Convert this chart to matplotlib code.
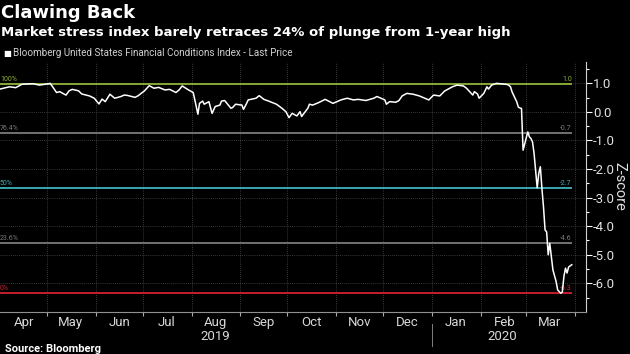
import matplotlib
matplotlib.use("Agg")
import matplotlib.pyplot as plt
import matplotlib.dates as mdates
import matplotlib.transforms as mtransforms
import pandas as pd

# Bloomberg US Financial Conditions Index
dates = [
    "2019-04-01", "2019-04-07", "2019-04-11", "2019-04-15", "2019-04-22", "2019-04-26",
    "2019-04-30", "2019-05-03", "2019-05-07", "2019-05-09", "2019-05-13", "2019-05-15",
    "2019-05-17", "2019-05-21", "2019-05-23", "2019-05-28", "2019-05-31", "2019-06-03",
    "2019-06-05", "2019-06-07", "2019-06-10", "2019-06-13", "2019-06-17", "2019-06-19",
    "2019-06-21", "2019-06-26", "2019-06-28", "2019-07-02", "2019-07-05", "2019-07-08",
    "2019-07-11", "2019-07-15", "2019-07-18", "2019-07-22", "2019-07-24", "2019-07-26",
    "2019-07-30", "2019-08-02", "2019-08-05", "2019-08-06", "2019-08-08", "2019-08-09",
    "2019-08-12", "2019-08-14", "2019-08-16", "2019-08-19", "2019-08-20", "2019-08-22",
    "2019-08-26", "2019-08-27", "2019-08-29", "2019-09-02", "2019-09-03", "2019-09-05",
    "2019-09-06", "2019-09-11", "2019-09-13", "2019-09-16", "2019-09-19", "2019-09-24",
    "2019-09-27", "2019-09-30", "2019-10-02", "2019-10-04", "2019-10-07", "2019-10-09",
    "2019-10-10", "2019-10-14", "2019-10-15", "2019-10-17", "2019-10-21", "2019-10-25",
    "2019-10-30", "2019-11-04", "2019-11-08", "2019-11-12", "2019-11-15", "2019-11-20",
    "2019-11-25", "2019-11-27", "2019-12-02", "2019-12-03", "2019-12-05", "2019-12-09",
    "2019-12-11", "2019-12-13", "2019-12-16", "2019-12-20", "2019-12-24", "2019-12-30",
    "2020-01-02", "2020-01-06", "2020-01-09", "2020-01-14", "2020-01-17", "2020-01-21",
    "2020-01-23", "2020-01-27", "2020-01-28", "2020-01-30", "2020-01-31", "2020-02-03",
    "2020-02-05", "2020-02-06", "2020-02-08", "2020-02-11", "2020-02-15", "2020-02-18",
    "2020-02-19", "2020-02-20", "2020-02-21", "2020-02-24", "2020-02-25", "2020-02-26",
    "2020-02-27", "2020-02-28", "2020-03-02", "2020-03-03", "2020-03-04", "2020-03-05",
    "2020-03-06", "2020-03-07", "2020-03-08", "2020-03-09", "2020-03-10", "2020-03-11",
    "2020-03-12", "2020-03-13", "2020-03-14", "2020-03-15", "2020-03-16", "2020-03-17",
    "2020-03-18", "2020-03-20", "2020-03-21", "2020-03-23", "2020-03-24", "2020-03-25",
    "2020-03-26", "2020-03-27", "2020-03-28", "2020-03-30",
]
values = [
    0.80, 0.88, 0.85, 0.97, 0.99, 0.94,
    0.97, 1.00, 0.68, 0.71, 0.59, 0.74,
    0.79, 0.74, 0.63, 0.56, 0.48, 0.28,
    0.45, 0.36, 0.62, 0.48, 0.54, 0.59,
    0.58, 0.51, 0.57, 0.74, 0.92, 0.83,
    0.86, 0.77, 0.79, 0.68, 0.77, 0.91,
    0.77, 0.68, -0.08, 0.30, 0.38, 0.27,
    0.36, -0.05, 0.19, 0.24, 0.38, 0.40,
    0.13, 0.15, 0.27, 0.24, 0.09, 0.30,
    0.42, 0.48, 0.57, 0.44, 0.38, 0.27,
    0.15, 0.01, -0.20, -0.05, -0.14, 0.01,
    -0.16, 0.13, 0.27, 0.24, 0.33, 0.44,
    0.30, 0.42, 0.48, 0.42, 0.44, 0.40,
    0.48, 0.54, 0.42, 0.27, 0.36, 0.34,
    0.40, 0.56, 0.65, 0.62, 0.56, 0.42,
    0.59, 0.56, 0.73, 0.88, 0.94, 0.91,
    0.83, 0.59, 0.71, 0.63, 0.48, 0.65,
    0.88, 0.80, 0.94, 1.00, 0.98, 0.96,
    0.93, 0.88, 0.70, 0.35, 0.17, 0.14,
    0.12, -1.34, -0.70, -0.87, -0.93, -1.05,
    -1.45, -2.04, -2.66, -2.15, -1.92, -2.68,
    -3.32, -4.13, -4.20, -5.00, -4.60, -5.06,
    -5.53, -5.93, -6.23, -6.35, -6.30, -5.76,
    -5.47, -5.64, -5.43, -5.35,
]

# retracement levels
fib_pct = ["100%", "76.4%", "50%", "23.6%", "0%"]
fib_levels = [0.98, -0.74, -2.67, -4.60, -6.33]
fib_colors = ["#8fb33a", "#7a7a7a", "#3fb4be", "#7a7a7a", "#d42033"]

months = ["Apr", "May", "Jun", "Jul", "Aug", "Sep", "Oct", "Nov", "Dec", "Jan", "Feb", "Mar"]
years = ["2019", "2020"]

x = pd.to_datetime(dates)
start = pd.Timestamp("2019-04-01")
end = pd.Timestamp("2020-04-08")

plt.rcParams["font.family"] = ["Roboto", "DejaVu Sans"]
plt.rcParams["axes.unicode_minus"] = False
fig = plt.figure(figsize=(6.3, 3.54), dpi=100, facecolor="black")
ax = fig.add_axes([0.0, 0.119, 0.930, 0.706], facecolor="black")

# grid
month_starts = pd.date_range("2019-05-01", "2020-04-01", freq="MS")
for m in month_starts:
    ax.axvline(m, color="#4a4a4a", lw=0.6, ls=(0, (1, 1.5)), zorder=1)
for yv in range(-6, 2):
    ax.axhline(yv, color="#4a4a4a", lw=0.6, ls=(0, (1, 1.5)), zorder=1)

# retracement lines + labels
for pct, lvl, col in zip(fib_pct, fib_levels, fib_colors):
    ax.hlines(lvl, x[0], x[-1], color=col, lw=1.3, zorder=2)
    ax.text(x[0], lvl + 0.04, pct, color=col, fontsize=5, ha="left", va="bottom")
    ax.text(x[-1], lvl + 0.04, f"{lvl:.1f}", color=col, fontsize=5, ha="right", va="bottom")

ax.plot(x, values, color="white", lw=1.1, zorder=3)

ax.set_xlim(start, end)
ax.set_ylim(-7.0, 1.75)

# y axis on the right
ax.yaxis.tick_right()
ax.set_yticks([1, 0, -1, -2, -3, -4, -5, -6])
ax.set_yticks([1.5, 0.5, -0.5, -1.5, -2.5, -3.5, -4.5, -5.5, -6.5], minor=True)
ax.yaxis.set_major_formatter(matplotlib.ticker.FuncFormatter(lambda v, p: f"{v:.1f}"))
ax.tick_params(axis="y", which="major", colors="white", labelcolor="#e0e0e0",
               labelsize=9.5, length=4, width=0.8, pad=1)
ax.tick_params(axis="y", which="minor", colors="white", length=2, width=0.8)
ax.yaxis.set_label_position("right")
ax.set_ylabel("Z-score", color="#e0e0e0", fontsize=10.5, rotation=270, va="center")
ax.yaxis.set_label_coords(1.058, 0.5)

# x axis: ticks at month boundaries, labels mid-month
ax.set_xticks(month_starts)
ax.xaxis.set_major_formatter(matplotlib.ticker.NullFormatter())
mids = pd.date_range("2019-04-01", "2020-03-01", freq="MS") + pd.Timedelta(days=15)
ax.set_xticks(mids, minor=True)
ax.set_xticklabels(months, minor=True)
ax.tick_params(axis="x", which="major", colors="#aaaaaa", length=3, width=0.8)
ax.tick_params(axis="x", which="minor", length=0, labelcolor="#d8d8d8", labelsize=9.5, pad=3)

for s in ["left", "top"]:
    ax.spines[s].set_visible(False)
ax.spines["right"].set_color("#d0d0d0")
ax.spines["bottom"].set_color("#909090")
ax.spines["right"].set_linewidth(0.8)
ax.spines["bottom"].set_linewidth(0.8)

trans = mtransforms.blended_transform_factory(ax.transData, ax.transAxes)
ax.text(pd.Timestamp("2019-08-16"), -0.097, years[0], transform=trans, color="#d8d8d8",
        fontsize=9.5, ha="center", va="center")
ax.text(pd.Timestamp("2020-02-15"), -0.097, years[1], transform=trans, color="#d8d8d8",
        fontsize=9.5, ha="center", va="center")
ax.plot([pd.Timestamp("2020-01-01")] * 2, [-0.05, -0.135], transform=trans,
        color="#808080", lw=0.7, clip_on=False)

# header
fig.text(0.002, 0.990, "Clawing Back", color="white", fontsize=13, fontweight="bold",
         ha="left", va="top", family="DejaVu Sans")
fig.text(0.002, 0.908, "Market stress index barely retraces 24% of plunge from 1-year high",
         color="white", fontsize=9.5, fontweight="bold", ha="left", va="center",
         family="DejaVu Sans")
fig.text(0.005, 0.850, "\u25a0", color="white", fontsize=6, ha="left", va="center",
         family="DejaVu Sans")
fig.text(0.021, 0.850, "Bloomberg United States Financial Conditions Index - Last Price",
         color="#d0d0d0", fontsize=7.1, ha="left", va="center")
fig.text(0.008, 0.014, "Source: Bloomberg", color="white", fontsize=8, fontweight="bold",
         ha="left", va="center")

fig.savefig("out.png", dpi=100, facecolor="black")
